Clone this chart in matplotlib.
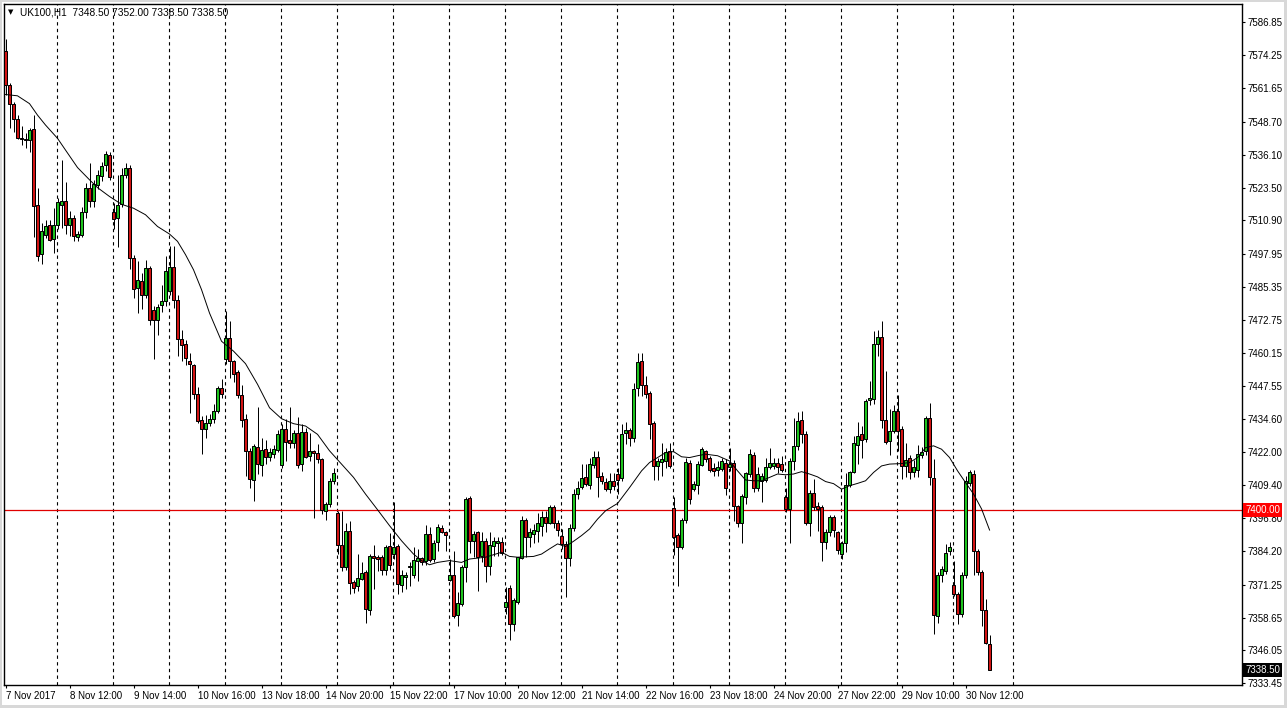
import matplotlib
matplotlib.use("Agg")
import matplotlib.pyplot as plt
import matplotlib.transforms as mtransforms
from matplotlib.patches import Rectangle

# UK100 H1 candles
opens = [
    7575.9, 7563.0, 7555.5, 7549.8, 7542.4, 7542.0, 7541.7, 7546.0, 7516.9, 7497.9,
    7505.4, 7509.2, 7503.9, 7509.2, 7516.8, 7518.4, 7509.2, 7511.8, 7504.4, 7505.4,
    7514.3, 7523.3, 7518.2, 7524.5, 7528.1, 7532.2, 7536.0, 7514.3, 7511.8, 7517.1,
    7528.4, 7531.0, 7496.7, 7485.0, 7487.6, 7482.5, 7492.7, 7476.4, 7472.8, 7478.4,
    7479.9, 7483.7, 7493.2, 7480.6, 7465.3, 7463.4, 7457.2, 7455.4, 7444.2, 7434.3,
    7430.9, 7433.4, 7434.7, 7437.9, 7446.5, 7457.6, 7465.7, 7457.0, 7452.9, 7444.0,
    7434.7, 7422.6, 7411.4, 7424.1, 7417.2, 7423.2, 7420.3, 7421.5, 7422.8, 7417.2,
    7430.9, 7426.8, 7425.4, 7429.3, 7417.5, 7429.8, 7420.7, 7422.6, 7421.7, 7419.4,
    7399.6, 7402.2, 7411.1, 7398.6, 7386.6, 7377.9, 7392.0, 7372.1, 7370.6, 7373.5,
    7376.3, 7361.6, 7382.1, 7381.8, 7381.8, 7376.9, 7386.0, 7383.0, 7386.0, 7371.3,
    7374.1, 7377.9, 7375.1, 7380.5, 7381.4, 7380.2, 7390.7, 7381.1, 7387.5, 7393.0,
    7391.6, 7373.1, 7374.8, 7359.5, 7363.7, 7377.9, 7404.5, 7387.9, 7391.3, 7382.3,
    7387.9, 7378.6, 7386.2, 7387.1, 7387.8, 7362.6, 7370.1, 7356.3, 7364.6, 7381.5,
    7396.1, 7389.4, 7390.7, 7392.0, 7393.9, 7397.3, 7395.1, 7401.1, 7394.8, 7390.0,
    7386.9, 7381.5, 7393.0, 7406.0, 7408.9, 7412.6, 7409.6, 7417.2, 7420.4, 7413.0,
    7410.8, 7407.9, 7411.1, 7413.6, 7412.1, 7429.6, 7430.6, 7427.6, 7446.5, 7457.0,
    7447.8, 7444.6, 7433.4, 7416.8, 7418.4, 7418.7, 7422.6, 7400.5, 7390.4, 7385.9,
    7396.1, 7418.1, 7407.9, 7409.6, 7417.0, 7422.6, 7419.8, 7415.9, 7415.2, 7415.8,
    7418.1, 7416.4, 7418.1, 7401.5, 7395.1, 7404.7, 7413.7, 7421.0, 7408.3, 7411.1,
    7411.4, 7416.4, 7416.8, 7418.0, 7417.7, 7405.0, 7400.3, 7418.7, 7424.5, 7434.3,
    7428.9, 7394.8, 7406.4, 7401.5, 7400.9, 7387.5, 7391.3, 7397.4, 7391.5, 7383.2,
    7387.3, 7409.4, 7414.6, 7424.9, 7429.0, 7427.0, 7441.9, 7442.3, 7463.6, 7466.2,
    7434.3, 7426.4, 7430.2, 7437.9, 7430.9, 7416.8, 7419.8, 7414.3, 7415.2, 7421.0,
    7422.6, 7435.3, 7412.1, 7359.1, 7375.1, 7376.4, 7384.0, 7371.3, 7367.8, 7360.1,
    7375.1, 7410.4, 7413.7, 7384.0, 7376.0, 7361.6, 7348.5,
]
highs = [
    7580.5, 7563.5, 7556.5, 7551.5, 7547.2, 7544.5, 7546.2, 7551.3, 7523.3, 7510.0,
    7511.0, 7511.2, 7515.6, 7519.5, 7534.1, 7525.8, 7514.6, 7513.0, 7507.0, 7516.0,
    7525.2, 7532.8, 7526.5, 7530.4, 7533.5, 7537.5, 7537.0, 7517.5, 7528.4, 7530.9,
    7532.8, 7532.0, 7497.5, 7495.5, 7490.7, 7495.6, 7493.5, 7478.0, 7479.0, 7486.3,
    7497.1, 7501.2, 7501.0, 7482.5, 7469.1, 7465.0, 7460.2, 7456.0, 7447.0, 7436.0,
    7436.5, 7436.6, 7440.4, 7447.4, 7450.0, 7476.1, 7472.3, 7457.5, 7453.5, 7447.7,
    7436.6, 7423.5, 7425.1, 7439.4, 7427.6, 7426.8, 7423.8, 7425.0, 7430.4, 7432.8,
    7434.7, 7439.4, 7430.5, 7435.6, 7433.0, 7431.5, 7429.6, 7423.0, 7425.1, 7420.0,
    7403.0, 7412.0, 7416.0, 7399.5, 7399.6, 7394.8, 7395.8, 7373.0, 7383.0, 7379.8,
    7377.0, 7383.0, 7386.6, 7382.5, 7382.5, 7386.5, 7391.0, 7402.8, 7387.0, 7377.0,
    7376.0, 7380.0, 7385.9, 7385.0, 7382.0, 7394.3, 7393.5, 7388.5, 7394.5, 7394.0,
    7392.0, 7381.0, 7384.3, 7368.4, 7379.0, 7405.0, 7405.4, 7392.0, 7392.0, 7391.6,
    7389.0, 7391.3, 7389.5, 7389.7, 7389.7, 7370.3, 7371.0, 7366.0, 7382.0, 7397.7,
    7397.0, 7393.0, 7394.5, 7398.6, 7399.6, 7399.6, 7402.0, 7402.0, 7396.0, 7392.6,
    7388.0, 7394.5, 7408.0, 7411.0, 7417.7, 7417.7, 7420.0, 7422.6, 7422.6, 7414.5,
    7412.0, 7414.0, 7414.0, 7416.0, 7433.0, 7433.7, 7431.5, 7448.7, 7460.2, 7460.2,
    7451.2, 7445.5, 7434.0, 7420.0, 7425.4, 7423.5, 7425.7, 7404.7, 7391.0, 7397.0,
    7420.0, 7419.0, 7411.0, 7418.5, 7424.0, 7423.0, 7420.5, 7418.0, 7418.5, 7420.0,
    7419.5, 7423.8, 7419.0, 7402.0, 7406.0, 7414.5, 7423.2, 7422.0, 7416.2, 7414.0,
    7420.0, 7423.6, 7420.0, 7420.0, 7420.5, 7408.5, 7420.0, 7435.3, 7437.6, 7437.9,
    7430.0, 7407.5, 7411.7, 7403.0, 7402.0, 7392.6, 7398.0, 7398.0, 7392.0, 7388.0,
    7413.9, 7415.0, 7428.3, 7433.8, 7432.1, 7442.5, 7449.3, 7468.7, 7469.0, 7472.5,
    7453.2, 7438.5, 7440.0, 7443.9, 7432.0, 7425.7, 7421.0, 7419.0, 7424.9, 7424.0,
    7436.0, 7441.0, 7419.4, 7376.0, 7378.5, 7386.9, 7387.5, 7380.2, 7368.5, 7376.0,
    7413.0, 7415.2, 7415.2, 7385.0, 7377.0, 7365.8, 7352.0,
]
lows = [
    7559.0, 7546.5, 7544.9, 7542.0, 7539.8, 7538.5, 7537.0, 7504.5, 7495.5, 7494.3,
    7504.0, 7503.0, 7498.4, 7507.5, 7508.0, 7505.7, 7505.0, 7503.0, 7503.0, 7504.5,
    7512.0, 7516.0, 7516.0, 7523.0, 7526.0, 7530.0, 7526.5, 7507.5, 7500.7, 7516.0,
    7527.0, 7492.4, 7481.2, 7475.4, 7477.1, 7481.0, 7471.0, 7457.6, 7466.9, 7476.0,
    7478.0, 7482.5, 7477.4, 7458.9, 7457.0, 7455.5, 7437.2, 7442.3, 7433.4, 7421.3,
    7427.6, 7432.0, 7433.2, 7437.0, 7443.0, 7456.0, 7450.4, 7449.1, 7442.7, 7431.7,
    7413.0, 7408.5, 7403.2, 7413.7, 7413.0, 7417.7, 7418.5, 7419.8, 7422.0, 7416.0,
    7418.5, 7423.8, 7423.5, 7416.0, 7414.9, 7419.8, 7418.7, 7396.8, 7418.0, 7398.5,
    7396.0, 7401.0, 7410.0, 7383.0, 7376.4, 7377.0, 7367.5, 7368.0, 7369.0, 7373.0,
    7356.7, 7359.5, 7369.7, 7376.4, 7375.0, 7374.8, 7377.0, 7381.0, 7367.5, 7368.4,
    7369.7, 7370.9, 7374.0, 7372.8, 7379.0, 7379.0, 7380.0, 7380.0, 7384.3, 7391.0,
    7384.3, 7372.6, 7358.5, 7355.3, 7363.0, 7372.2, 7383.3, 7382.0, 7368.8, 7380.0,
    7372.2, 7374.8, 7382.3, 7382.3, 7382.6, 7360.0, 7350.2, 7353.6, 7364.0, 7381.0,
    7381.8, 7385.6, 7387.4, 7387.5, 7390.0, 7391.5, 7394.5, 7393.0, 7390.0, 7385.0,
    7366.5, 7378.6, 7392.0, 7404.0, 7408.0, 7409.0, 7408.0, 7416.0, 7405.0, 7410.0,
    7407.0, 7406.4, 7407.5, 7406.0, 7411.0, 7425.1, 7424.5, 7426.0, 7443.6, 7443.6,
    7443.0, 7427.0, 7411.3, 7411.5, 7413.0, 7416.0, 7416.0, 7382.8, 7370.6, 7385.0,
    7395.0, 7402.2, 7407.0, 7406.2, 7416.6, 7418.4, 7414.5, 7413.0, 7413.0, 7415.0,
    7405.7, 7415.0, 7395.8, 7393.2, 7387.3, 7402.2, 7412.5, 7406.8, 7407.0, 7402.8,
    7410.5, 7415.5, 7415.5, 7414.0, 7414.5, 7399.0, 7387.3, 7415.2, 7423.0, 7425.7,
    7394.0, 7390.0, 7400.0, 7391.7, 7380.5, 7385.0, 7390.0, 7389.5, 7383.0, 7381.2,
    7383.7, 7408.8, 7414.0, 7417.5, 7419.8, 7426.0, 7440.2, 7440.6, 7458.9, 7431.5,
    7425.1, 7421.0, 7429.5, 7422.6, 7411.7, 7412.4, 7411.7, 7412.6, 7412.6, 7419.8,
    7420.8, 7409.6, 7352.2, 7356.7, 7372.2, 7375.2, 7382.7, 7367.0, 7356.3, 7359.0,
    7374.0, 7409.0, 7375.1, 7375.0, 7355.6, 7348.5, 7338.5,
]
closes = [
    7562.9, 7555.7, 7549.8, 7542.4, 7542.0, 7541.8, 7545.6, 7516.6, 7497.3, 7506.9,
    7508.9, 7503.5, 7509.2, 7517.9, 7518.2, 7509.0, 7511.8, 7504.8, 7505.7, 7514.1,
    7523.3, 7518.4, 7524.8, 7528.4, 7531.8, 7536.4, 7527.5, 7511.5, 7516.9, 7528.4,
    7531.2, 7496.5, 7484.8, 7488.0, 7482.5, 7492.7, 7472.9, 7472.9, 7477.9, 7480.2,
    7491.4, 7493.2, 7480.6, 7465.3, 7463.0, 7458.2, 7455.7, 7444.2, 7434.0, 7430.9,
    7433.4, 7434.7, 7437.9, 7446.5, 7444.5, 7465.9, 7457.2, 7452.1, 7444.0, 7434.3,
    7422.6, 7411.7, 7424.5, 7417.5, 7422.8, 7420.4, 7422.2, 7423.3, 7428.9, 7430.9,
    7426.1, 7425.4, 7429.3, 7417.2, 7429.9, 7420.3, 7422.6, 7421.9, 7419.4, 7399.9,
    7402.2, 7411.1, 7414.0, 7386.6, 7378.2, 7391.7, 7371.8, 7370.1, 7373.9, 7375.6,
    7362.0, 7382.1, 7381.4, 7381.1, 7376.9, 7385.9, 7379.0, 7385.9, 7371.6, 7374.8,
    7374.8, 7378.6, 7380.8, 7381.4, 7380.1, 7390.7, 7380.8, 7387.3, 7393.5, 7391.6,
    7390.4, 7374.8, 7359.1, 7364.2, 7378.2, 7404.1, 7387.9, 7390.7, 7382.0, 7388.1,
    7378.5, 7386.6, 7387.9, 7388.1, 7383.3, 7364.6, 7356.0, 7365.2, 7381.8, 7396.1,
    7389.4, 7391.3, 7392.2, 7394.8, 7397.1, 7395.1, 7401.1, 7394.8, 7392.2, 7386.9,
    7381.5, 7393.0, 7406.0, 7408.5, 7412.0, 7410.0, 7417.7, 7420.4, 7412.6, 7411.1,
    7407.9, 7411.1, 7409.0, 7411.3, 7429.2, 7430.5, 7427.6, 7446.2, 7456.6, 7447.8,
    7444.5, 7432.8, 7416.8, 7418.5, 7419.4, 7422.3, 7416.8, 7389.7, 7385.9, 7396.1,
    7418.4, 7404.1, 7409.8, 7417.5, 7423.1, 7419.4, 7415.2, 7414.9, 7416.4, 7418.5,
    7408.3, 7417.7, 7401.5, 7395.1, 7405.4, 7413.9, 7421.3, 7408.5, 7413.7, 7413.0,
    7416.4, 7417.9, 7418.1, 7416.2, 7415.2, 7400.3, 7418.7, 7424.5, 7434.0, 7428.9,
    7394.8, 7406.6, 7401.1, 7400.3, 7387.5, 7391.3, 7397.1, 7392.3, 7384.5, 7387.3,
    7409.6, 7414.5, 7425.5, 7428.3, 7426.7, 7441.7, 7442.9, 7463.4, 7466.2, 7434.3,
    7426.1, 7430.2, 7437.9, 7430.0, 7416.6, 7419.1, 7414.3, 7416.2, 7421.3, 7422.3,
    7435.3, 7412.4, 7359.5, 7375.1, 7377.3, 7383.3, 7385.8, 7367.8, 7360.1, 7375.1,
    7411.1, 7414.3, 7384.3, 7376.0, 7361.6, 7349.0, 7338.5,
]

# moving average, sampled at bar indices
ma_idx = [0, 3, 6, 8, 10, 13, 15, 18, 21, 23, 26, 29, 32, 35, 38, 41, 43, 45, 47, 49,
          51, 54, 57, 60, 63, 66, 69, 72, 75, 78, 81, 84, 87, 90, 93, 96, 99, 102, 104,
          106, 108, 111, 114, 116, 120, 124, 126, 128, 132, 134, 136, 138, 140, 142,
          144, 146, 148, 150, 152, 153, 156, 159, 161, 163, 165, 167, 169, 171, 173,
          175, 178, 181, 183, 185, 187, 189, 191, 193, 195, 197, 199, 201, 203, 205,
          207, 209, 211, 213, 215, 217, 219, 221, 224, 226, 228, 230, 232, 234, 236,
          238, 240, 242, 244, 246]
ma_val = [7559.2, 7558.7, 7555.7, 7551.3, 7547.5, 7542.4, 7537.9, 7531.2, 7526.5, 7523.5,
          7520.1, 7517.1, 7515.6, 7513.1, 7508.6, 7505.7, 7502.9, 7497.8, 7492.0, 7484.4,
          7475.4, 7464.6, 7460.8, 7456.0, 7448.1, 7439.1, 7434.9, 7433.0, 7432.1, 7428.9,
          7422.6, 7417.5, 7412.4, 7406.0, 7400.0, 7393.9, 7388.1, 7383.0, 7380.5, 7378.9,
          7379.8, 7380.5, 7379.8, 7381.1, 7381.8, 7383.7, 7382.1, 7381.8, 7382.1, 7383.0,
          7385.0, 7386.9, 7385.9, 7387.9, 7390.1, 7392.6, 7396.4, 7399.6, 7401.5, 7402.4,
          7408.5, 7414.9, 7418.1, 7420.0, 7421.9, 7422.3, 7420.3, 7420.0, 7420.7, 7421.3,
          7420.7, 7418.7, 7414.9, 7411.4, 7411.1, 7411.1, 7412.4, 7413.7, 7413.4, 7413.7,
          7414.6, 7413.7, 7412.6, 7410.8, 7410.0, 7407.9, 7409.2, 7410.1, 7411.1, 7414.3,
          7416.8, 7417.5, 7417.7, 7418.1, 7420.0, 7423.8, 7424.5, 7423.2, 7420.0, 7414.9,
          7410.4, 7406.0, 7400.3, 7392.2]

y_ticks = [7586.85, 7574.25, 7561.65, 7548.70, 7536.10, 7523.50, 7510.90, 7497.95,
           7485.35, 7472.75, 7460.15, 7447.55, 7434.60, 7422.00, 7409.40, 7396.80,
           7384.20, 7371.25, 7358.65, 7346.05, 7333.45]
x_labels = ["7 Nov 2017", "8 Nov 12:00", "9 Nov 14:00", "10 Nov 16:00", "13 Nov 18:00",
            "14 Nov 20:00", "15 Nov 22:00", "17 Nov 10:00", "20 Nov 12:00", "21 Nov 14:00",
            "22 Nov 16:00", "23 Nov 18:00", "24 Nov 20:00", "27 Nov 22:00", "29 Nov 10:00",
            "30 Nov 12:00"]
level_line = 7400.00

plt.rcParams["font.family"] = ["Liberation Sans", "DejaVu Sans"]
plt.rcParams["font.size"] = 7

W, H = 1287, 708
fig = plt.figure(figsize=(W / 100, H / 100), dpi=100)
fig.patch.set_facecolor("white")
ax = fig.add_axes([4 / W, 1 - 685 / H, (1242 - 4) / W, (685 - 4) / H])

n = len(closes)
idx = list(range(n))

# wicks
ax.vlines(idx, lows, highs, color="black", linewidth=0.72, zorder=3)

# bodies
up = [c >= o for o, c in zip(opens, closes)]
bottoms = [min(o, c) for o, c in zip(opens, closes)]
heights = [max(abs(c - o), 0.05) for o, c in zip(opens, closes)]
colors = ["#1ec31e" if u else "#d21414" for u in up]
ax.bar(idx, heights, bottom=bottoms, width=0.55, color=colors,
       edgecolor="black", linewidth=0.72, zorder=4)

# moving average
ax.plot(ma_idx, ma_val, color="black", linewidth=0.7, zorder=5)

# horizontal level
ax.axhline(level_line, color="#e00000", linewidth=0.9, zorder=2)

# vertical dashed grid
grid_x = [12.85 + 14 * k for k in range(17)] + [251.9]
for gx in grid_x:
    ax.axvline(gx, color="black", linewidth=0.8, linestyle=(0, (3, 3)), zorder=1)

ax.set_xlim(-0.375, 309.1)
ax.set_ylim(7332.8, 7593.9)

ax.yaxis.tick_right()
ax.set_yticks(y_ticks)
ax.set_yticklabels([f"{v:.2f}" for v in y_ticks])
ax.tick_params(axis="y", direction="out", length=2.5, width=0.8, pad=1.5, labelsize=7)

ax.set_xticks([16 * k for k in range(len(x_labels))])
ax.set_xticklabels(x_labels, ha="left")
ax.tick_params(axis="x", direction="out", length=2.5, width=0.8, pad=1.5, labelsize=7)

for s in ax.spines.values():
    s.set_color("black")
    s.set_linewidth(1)

# header
ax.text(0.0033, 0.988, "\u25bc", transform=ax.transAxes, fontsize=5,
        va="center", ha="left", family=["DejaVu Sans"])
ax.text(0.013, 0.988, "UK100,H1  7348.50 7352.00 7338.50 7338.50",
        transform=ax.transAxes, fontsize=7.3, va="center", ha="left")

# price tags on the right axis
trans = mtransforms.blended_transform_factory(ax.transAxes, ax.transData)
ax.text(1.0025, level_line, f"{level_line:.2f}", transform=trans, color="white",
        fontsize=7, va="center", ha="left", zorder=10, clip_on=False,
        bbox=dict(boxstyle="square,pad=0.2", facecolor="#ff0000", edgecolor="none"))
ax.text(1.0025, closes[-1], f"{closes[-1]:.2f}", transform=trans, color="white",
        fontsize=7, va="center", ha="left", zorder=10, clip_on=False,
        bbox=dict(boxstyle="square,pad=0.2", facecolor="black", edgecolor="none"))

# window border
for x0, y0, w, h in [(0, 0, 2 / W, 1), (1 - 3 / W, 0, 3 / W, 1),
                     (0, 0, 1, 3 / H), (0, 1 - 2 / H, 1, 2 / H)]:
    fig.add_artist(Rectangle((x0, y0), w, h, transform=fig.transFigure,
                             facecolor="#d8d8d8", edgecolor="none"))

fig.savefig("out.png", dpi=100, facecolor="white")
